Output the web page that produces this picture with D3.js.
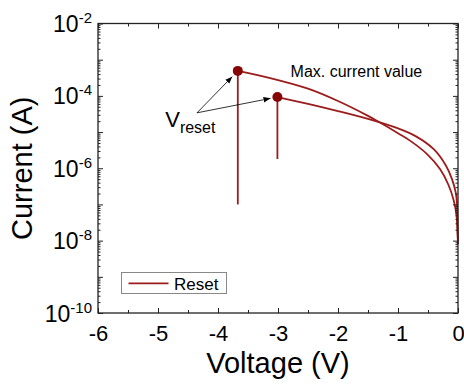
<!DOCTYPE html>
<html>
<head>
<meta charset="utf-8">
<script src="https://cdn.jsdelivr.net/npm/d3@7"></script>
<style>
  body { margin: 0; background: #fff; }
  text { font-family: "Liberation Sans", Arial, sans-serif; fill: #000; }
</style>
</head>
<body>
<div id="chart"></div>
<script>
// sweep 1 : 0 V -> Vreset = -3.67 V, then current drops
var volt1 = [0, -0.008, -0.025, -0.07, -0.16, -0.3, -0.52, -0.8, -1.0, -1.33, -1.5, -2.0, -2.5, -3.13, -3.67, -3.67];
var curr1 = [8e-9, 1.6e-8, 5.0e-8, 1.26e-7, 3.5e-7, 9.5e-7, 2.5e-6, 5.8e-6, 9.3e-6, 1.95e-5, 2.8e-5, 7.2e-5, 1.58e-4, 3.1e-4, 4.9e-4, 1.0e-7];
// sweep 2 : 0 V -> Vreset = -3.01 V
var volt2 = [0, -0.004, -0.01, -0.02, -0.04, -0.1, -0.2, -0.4, -0.7, -1.0, -1.5, -2.0, -2.5, -3.01, -3.01];
var curr2 = [8e-9, 1.6e-8, 5.0e-8, 1.26e-7, 2.2e-7, 5.0e-7, 1.17e-6, 3.3e-6, 7.6e-6, 1.26e-5, 2.3e-5, 3.8e-5, 6.0e-5, 9.3e-5, 1.8e-6];

// the Vreset points (max. current)
var peakV = [-3.67, -3.01];
var peakI = [4.9e-4, 9.3e-5];

var xTicks = [-6, -5, -4, -3, -2, -1, 0];
var xMinor = [-5.5, -4.5, -3.5, -2.5, -1.5, -0.5];
var yLabelExp = [-2, -4, -6, -8, -10];

// annotation anchors (data units)
var arrowFrom = [-4.35, 3.4e-5];
var vresetAt = [-4.88, 1.4e-5];
var maxTextAt = [-2.79, 3.3e-4];

var lineColor = "#9c1c1c", dotColor = "#860606";

var W = 464, H = 384;
var margin = {top: 23.5, right: 6, bottom: 71, left: 98};

var svg = d3.select("#chart").append("svg")
    .attr("width", W).attr("height", H);

svg.append("defs").append("marker")
    .attr("id", "arr")
    .attr("viewBox", "0 0 10 10")
    .attr("refX", 10).attr("refY", 5)
    .attr("markerWidth", 7).attr("markerHeight", 7)
    .attr("markerUnits", "userSpaceOnUse")
    .attr("orient", "auto")
    .append("path").attr("d", "M0,1L10,5L0,9z").attr("fill", "#000");

var x = d3.scaleLinear().domain([-6, 0]).range([margin.left, W - margin.right]);
var y = d3.scaleLog().domain([1e-10, 1e-2]).range([H - margin.bottom, margin.top]);

// log minor ticks
var yMajor = d3.range(-10, -1).map(function (e) { return Math.pow(10, e); });
var yMinor = [];
yMajor.forEach(function (d) {
    for (var k = 2; k <= 9; k++) { if (d * k < 1e-2) yMinor.push(d * k); }
});

// curves
var pts1 = volt1.map(function (v, i) { return [x(v), y(curr1[i])]; });
var pts2 = volt2.map(function (v, i) { return [x(v), y(curr2[i])]; });
var smooth = d3.line().curve(d3.curveCatmullRom.alpha(0.5));
var straight = d3.line();

[pts1, pts2].forEach(function (p) {
    svg.append("path")
        .attr("d", smooth(p.slice(0, p.length - 1)))
        .attr("fill", "none").attr("stroke", lineColor).attr("stroke-width", 1.8);
    svg.append("path")
        .attr("d", straight(p.slice(p.length - 2)))
        .attr("fill", "none").attr("stroke", lineColor).attr("stroke-width", 1.8);
});

svg.selectAll("circle.peak")
    .data(peakV)
    .enter().append("circle")
    .attr("class", "peak")
    .attr("cx", function (d) { return x(d); })
    .attr("cy", function (d, i) { return y(peakI[i]); })
    .attr("r", 5)
    .attr("fill", dotColor);

// axes (ticks point inwards)
var plotH = H - margin.bottom - margin.top, plotW = W - margin.right - margin.left;

var gx = svg.append("g").attr("transform", "translate(0," + (H - margin.bottom) + ")")
    .call(d3.axisBottom(x).tickValues(xTicks).tickSizeInner(-5).tickSizeOuter(0).tickPadding(12)
        .tickFormat(function (d) { return d3.format("d")(d).replace("−", "-"); }));
gx.select(".domain").remove();
gx.selectAll("text").attr("font-size", 22).attr("font-family", "Liberation Sans, Arial, sans-serif");
var gxm = svg.append("g").attr("transform", "translate(0," + (H - margin.bottom) + ")")
    .call(d3.axisBottom(x).tickValues(xMinor).tickSizeInner(-3).tickSizeOuter(0).tickFormat(""));
gxm.select(".domain").remove();

var gt = svg.append("g").attr("transform", "translate(0," + margin.top + ")")
    .call(d3.axisTop(x).tickValues(xTicks).tickSizeInner(-5).tickSizeOuter(0).tickFormat(""));
gt.select(".domain").remove();
var gtm = svg.append("g").attr("transform", "translate(0," + margin.top + ")")
    .call(d3.axisTop(x).tickValues(xMinor).tickSizeInner(-3).tickSizeOuter(0).tickFormat(""));
gtm.select(".domain").remove();

[["L", margin.left], ["R", W - margin.right]].forEach(function (s) {
    var ax = s[0] === "L" ? d3.axisLeft : d3.axisRight;
    var g1 = svg.append("g").attr("transform", "translate(" + s[1] + ",0)")
        .call(ax(y).tickValues(yMajor).tickSizeInner(-5).tickSizeOuter(0).tickFormat(""));
    g1.select(".domain").remove();
    var g2 = svg.append("g").attr("transform", "translate(" + s[1] + ",0)")
        .call(ax(y).tickValues(yMinor).tickSizeInner(-2.5).tickSizeOuter(0).tickFormat(""));
    g2.select(".domain").remove();
});
svg.selectAll(".tick line").attr("stroke", "#222").attr("stroke-width", 1);

// y labels 10^n
var yl = svg.append("g").selectAll("text")
    .data(yLabelExp)
    .enter().append("text")
    .attr("x", margin.left - 6)
    .attr("y", function (d) { return y(Math.pow(10, d)) + 8.5; })
    .attr("text-anchor", "end")
    .attr("font-size", 23);
yl.append("tspan").text("10");
yl.append("tspan").attr("dy", -9).attr("font-size", 15).text(function (d) { return String(d); });

// frame
svg.append("rect")
    .attr("x", margin.left).attr("y", margin.top)
    .attr("width", plotW).attr("height", plotH)
    .attr("fill", "none").attr("stroke", "#222").attr("stroke-width", 1.3);

// axis titles
svg.append("text")
    .attr("x", (margin.left + W - margin.right) / 2).attr("y", 373)
    .attr("text-anchor", "middle").attr("font-size", 29)
    .text("Voltage (V)");
svg.append("text")
    .attr("transform", "translate(32," + (margin.top + plotH / 2) + ") rotate(-90)")
    .attr("text-anchor", "middle").attr("font-size", 29)
    .text("Current (A)");

// annotations
peakV.forEach(function (v, i) {
    var x0 = x(arrowFrom[0]), y0 = y(arrowFrom[1]);
    var x1 = x(v), y1 = y(peakI[i]);
    var dx = x1 - x0, dy = y1 - y0, len = Math.sqrt(dx * dx + dy * dy);
    var cut = i === 0 ? 8 : 7;
    svg.append("line")
        .attr("x1", x0).attr("y1", y0)
        .attr("x2", x1 - dx / len * cut).attr("y2", y1 - dy / len * cut)
        .attr("stroke", "#000").attr("stroke-width", 0.8)
        .attr("marker-end", "url(#arr)");
});

var vt = svg.append("text")
    .attr("x", x(vresetAt[0])).attr("y", y(vresetAt[1]))
    .attr("font-size", 22);
vt.append("tspan").text("V");
vt.append("tspan").attr("dy", 6).attr("font-size", 16).text("reset");

svg.append("text")
    .attr("x", x(maxTextAt[0])).attr("y", y(maxTextAt[1]))
    .attr("font-size", 16)
    .text("Max. current value");

// legend
var lg = svg.append("g");
lg.append("rect")
    .attr("x", 121.5).attr("y", 272.5).attr("width", 105).attr("height", 21)
    .attr("fill", "#fff").attr("stroke", "#888").attr("stroke-width", 1);
lg.append("line")
    .attr("x1", 128.5).attr("x2", 168.5).attr("y1", 283.3).attr("y2", 283.3)
    .attr("stroke", lineColor).attr("stroke-width", 1.8);
lg.append("text")
    .attr("x", 174).attr("y", 289.5).attr("font-size", 17)
    .text("Reset");
</script>
</body>
</html>
